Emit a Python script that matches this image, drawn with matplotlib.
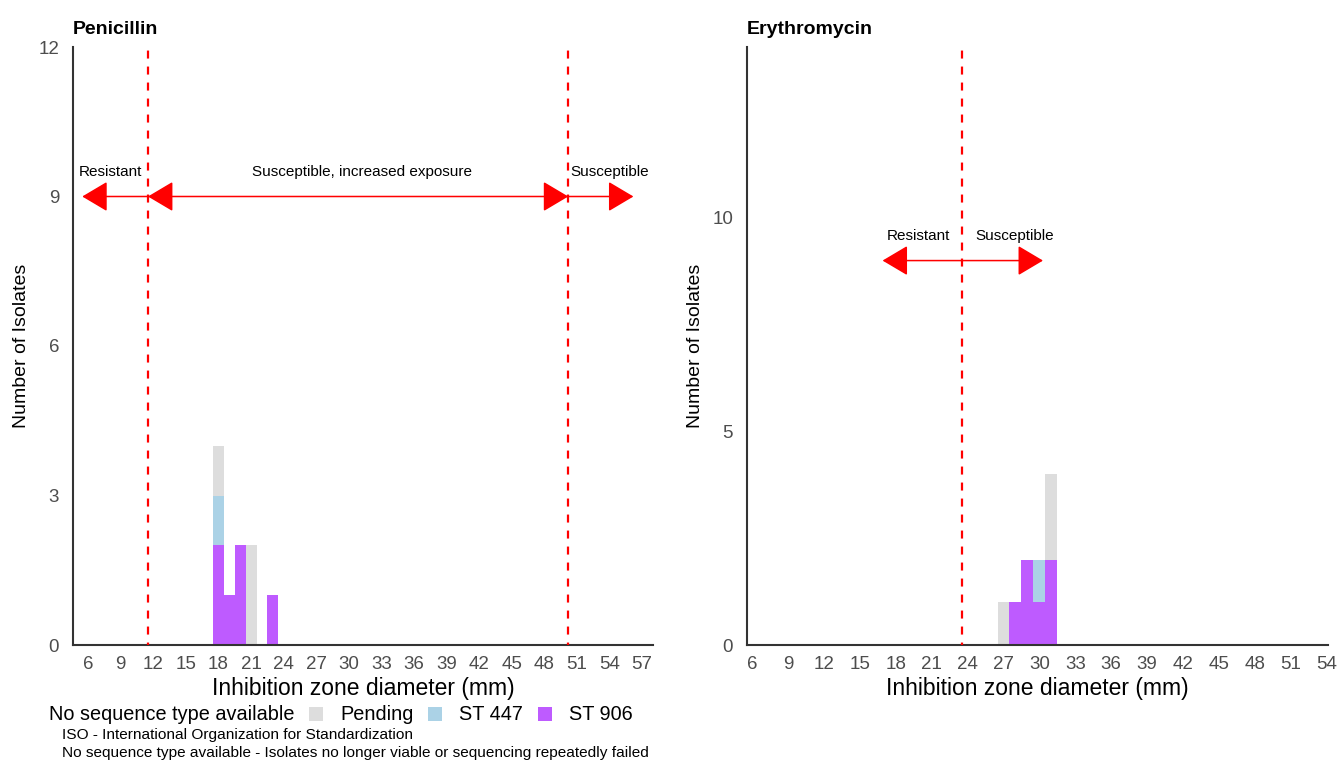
import matplotlib.pyplot as plt
from matplotlib.patches import Patch

plt.rcParams["font.family"] = ["Liberation Sans", "DejaVu Sans"]

# bar data (bins of 1 mm, stacked ST 906 / ST 447 / Pending)
pen_bins = [18, 19, 20, 21, 23]
pen_st906 = [2, 1, 2, 0, 1]
pen_st447 = [1, 0, 0, 0, 0]
pen_pending = [1, 0, 0, 2, 0]

ery_bins = [27, 28, 29, 30, 31]
ery_st906 = [0, 1, 2, 1, 2]
ery_st447 = [0, 0, 0, 1, 0]
ery_pending = [1, 0, 0, 0, 2]

# breakpoints and interpretation arrows
pen_breaks = [11.5, 50.2]
pen_arrows = [(11.5, 5.45, "-|>"), (11.5, 50.2, "<|-|>"), (50.2, 56.2, "-|>")]
pen_labels = [(8.05, "Resistant"), (31.2, "Susceptible, increased exposure"), (54.05, "Susceptible")]

ery_breaks = [23.5]
ery_arrows = [(23.5, 16.9, "-|>"), (23.5, 30.3, "-|>")]
ery_labels = [(19.86, "Resistant"), (27.95, "Susceptible")]

legend_labels = ["No sequence type available", "Pending", "ST 447", "ST 906"]
colors = {"none": "#ffffff", "pending": "#dddddd", "st447": "#abd2e6", "st906": "#be5bff"}

W, H = 1342, 760
fig = plt.figure(figsize=(W / 100, H / 100), dpi=100)
fig.patch.set_facecolor("white")


def panel(rect, title, bins, st906, st447, pending, xlim, ylim, xticks, yticks,
          breaks, arrows, labels, arrow_y):
    ax = fig.add_axes(rect)
    b2 = [a + b for a, b in zip(st906, st447)]
    ax.bar(bins, st906, width=1, color=colors["st906"], linewidth=0)
    ax.bar(bins, st447, width=1, bottom=st906, color=colors["st447"], linewidth=0)
    ax.bar(bins, pending, width=1, bottom=b2, color=colors["pending"], linewidth=0)
    for b in breaks:
        ax.axvline(b, color="#ff0000", lw=1.6, ls=(2.5, (3.6, 3.6)), zorder=3)
    for x0, x1, style in arrows:
        ax.annotate("", xy=(x1, arrow_y), xytext=(x0, arrow_y),
                    arrowprops=dict(arrowstyle=style + ",head_length=1.6,head_width=0.95",
                                    mutation_scale=10, color="#ff0000", lw=1.1,
                                    shrinkA=0, shrinkB=0))
    for x, txt in labels:
        ax.text(x, arrow_y + 0.5 * (ylim[1] / 12), txt, ha="center", va="center",
                fontsize=11, color="black")
    ax.set_xlim(*xlim)
    ax.set_ylim(*ylim)
    ax.set_xticks(xticks)
    ax.set_yticks(yticks)
    ax.tick_params(length=0, labelsize=13.5, labelcolor="#4d4d4d", pad=8)
    ax.tick_params(axis="y", pad=10)
    for s in ["top", "right"]:
        ax.spines[s].set_visible(False)
    for s in ["left", "bottom"]:
        ax.spines[s].set_color("#333333")
        ax.spines[s].set_linewidth(1.5)
    ax.set_xlabel("Inhibition zone diameter (mm)", fontsize=16.5)
    ax.set_ylabel("Number of Isolates", fontsize=14)
    ax.xaxis.set_label_coords(0.5, -0.053)
    ax.yaxis.set_label_coords(-0.074, 0.5)
    ax.set_title(title, loc="left", fontsize=14, fontweight="bold", pad=9)
    return ax


panel([73 / W, 1 - 645 / H, 580 / W, 598 / H], "Penicillin",
      pen_bins, pen_st906, pen_st447, pen_pending,
      (4.6, 58.0), (0, 12), range(6, 58, 3), [0, 3, 6, 9, 12],
      pen_breaks, pen_arrows, pen_labels, 9)

panel([747 / W, 1 - 645 / H, 581 / W, 598 / H], "Erythromycin",
      ery_bins, ery_st906, ery_st447, ery_pending,
      (5.58, 54.1), (0, 14), range(6, 55, 3), [0, 5, 10],
      ery_breaks, ery_arrows, ery_labels, 9)

handles = [Patch(facecolor=colors[k], edgecolor="none")
           for k in ["none", "pending", "st447", "st906"]]
fig.legend(handles, legend_labels, ncol=4, loc="center left",
           bbox_to_anchor=(18 / W, 1 - 715 / H), frameon=False, fontsize=14.3,
           handlelength=0.7, handleheight=0.7, handletextpad=0.85,
           columnspacing=0.75, borderpad=0, borderaxespad=0)

fig.text(62 / W, 1 - 735 / H, "ISO - International Organization for Standardization",
         fontsize=11.1, va="center", ha="left")
fig.text(62 / W, 1 - 753 / H,
         "No sequence type available - Isolates no longer viable or sequencing repeatedly failed",
         fontsize=11.1, va="center", ha="left")

fig.savefig("out.png", dpi=100, facecolor="white")
